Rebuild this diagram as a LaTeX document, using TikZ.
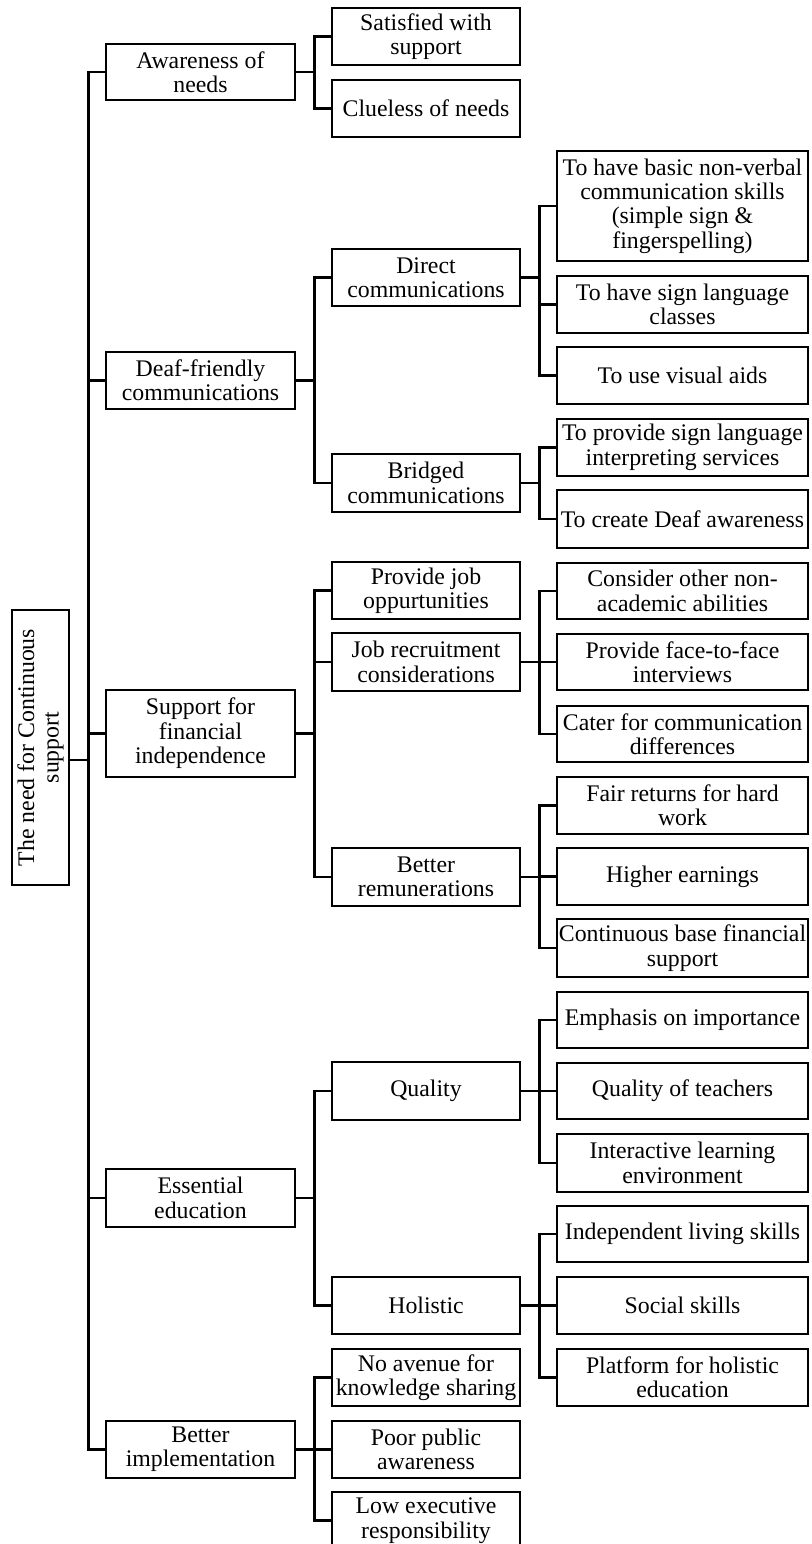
\documentclass[tikz,border=0pt]{standalone}
\usepackage{fontspec}
\setmainfont{Liberation Serif}
% \treebox{name}{left}{top}{right}{bottom}{text}, page units with y growing downwards
\newcommand{\treebox}[6]{%
  \node[box, minimum width={#4-#2}, minimum height={#5-#3}] (#1) at ({(#2+#4)/2},{(#3+#5)/2}) {#6};}
% elbow connector from a parent box to one of its children
\newcommand{\branch}[2]{\draw[link] (#1.east) -- ++(18,0) |- (#2.west);}
\begin{document}
\begin{tikzpicture}[x=1pt,y=-1pt,
  box/.style={draw, line width=2.9pt, inner sep=0pt, align=center,
    font=\fontsize{23.8}{24.4}\selectfont},
  link/.style={line width=2.9pt}]
\clip (0,0) rectangle (811,1544);
\fill[white] (0,0) rectangle (811,1544);

% root, text running upwards
\node[box, rotate=90, minimum width=275, minimum height=57] (root) at (40.5,747.5)
  {The need for Continuous\\support};

% first level
\treebox{aw}{106}{44}{295}{100}{Awareness of\\needs}
\treebox{df}{106}{352}{295}{409}{Deaf-friendly\\communications}
\treebox{sf}{106}{690}{295}{777}{Support for\\financial\\independence}
\treebox{ee}{106}{1169}{295}{1227}{Essential\\education}
\treebox{bi}{106}{1421}{295}{1478}{Better\\implementation}

% second level
\treebox{sat}{332}{8}{520}{65}{Satisfied with\\support}
\treebox{clu}{332}{80}{520}{137}{Clueless of needs}
\treebox{dir}{332}{249}{520}{306}{Direct\\communications}
\treebox{bri}{332}{454}{520}{512}{Bridged\\communications}
\treebox{job}{332}{562}{520}{619}{Provide job\\oppurtunities}
\treebox{rec}{332}{633}{520}{691}{Job recruitment\\considerations}
\treebox{rem}{332}{848}{520}{906}{Better\\remunerations}
\treebox{qua}{332}{1062}{520}{1120}{Quality}
\treebox{hol}{332}{1277}{520}{1334}{Holistic}
\treebox{nav}{332}{1349}{520}{1406}{No avenue for\\knowledge sharing}
\treebox{ppa}{332}{1421}{520}{1478}{Poor public\\awareness}
\treebox{lex}{332}{1492}{520}{1549}{Low executive\\responsibility}

% third level
\treebox{bas}{557}{151}{808}{261}{To have basic non-verbal\\communication skills\\(simple sign \&\\fingerspelling)}
\treebox{cls}{557}{276}{808}{333}{To have sign language\\classes}
\treebox{vis}{557}{347}{808}{404}{To use visual aids}
\treebox{int}{557}{419}{808}{476}{To provide sign language\\interpreting services}
\treebox{cda}{557}{490}{808}{548}{To create Deaf awareness}
\treebox{con}{557}{563}{808}{619}{Consider other non-\\academic abilities}
\treebox{fac}{557}{634}{808}{690}{Provide face-to-face\\interviews}
\treebox{cat}{557}{706}{808}{762}{Cater for communication\\differences}
\treebox{fai}{557}{777}{808}{834}{Fair returns for hard\\work}
\treebox{hig}{557}{848}{808}{905}{Higher earnings}
\treebox{cbf}{557}{919}{808}{977}{Continuous base financial\\support}
\treebox{emp}{557}{992}{808}{1048}{Emphasis on importance}
\treebox{qot}{557}{1063}{808}{1119}{Quality of teachers}
\treebox{ile}{557}{1134}{808}{1192}{Interactive learning\\environment}
\treebox{ils}{557}{1206}{808}{1262}{Independent living skills}
\treebox{soc}{557}{1277}{808}{1334}{Social skills}
\treebox{pfh}{557}{1349}{808}{1406}{Platform for holistic\\education}

% root to first level (the root is rotated, so its right side is .south)
\foreach \c in {aw,df,sf,ee,bi}
  \draw[link] ([yshift=-12.5pt]root.south) -- ++(18,0) |- (\c.west);

% first to second level
\branch{aw}{sat} \branch{aw}{clu}
\branch{df}{dir} \branch{df}{bri}
\branch{sf}{job} \branch{sf}{rec} \branch{sf}{rem}
\branch{ee}{qua} \branch{ee}{hol}
\branch{bi}{nav} \branch{bi}{ppa} \branch{bi}{lex}

% second to third level
\branch{dir}{bas} \branch{dir}{cls} \branch{dir}{vis}
\branch{bri}{int} \branch{bri}{cda}
\branch{rec}{con} \branch{rec}{fac} \branch{rec}{cat}
\branch{rem}{fai} \branch{rem}{hig} \branch{rem}{cbf}
\branch{qua}{emp} \branch{qua}{qot} \branch{qua}{ile}
\branch{hol}{ils} \branch{hol}{soc} \branch{hol}{pfh}
\end{tikzpicture}
\end{document}
